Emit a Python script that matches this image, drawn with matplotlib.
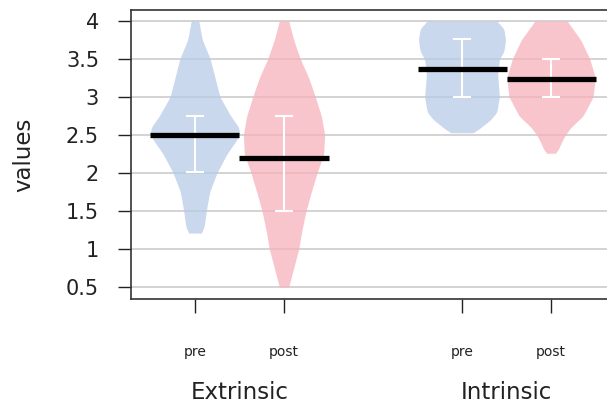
import numpy as np
import matplotlib
matplotlib.use("Agg")
import matplotlib.pyplot as plt
import matplotlib.transforms as mtransforms

# Donnees
groupes = ["Extrinsic", "Intrinsic"]
temps = ["pre", "post", "pre", "post"]
positions = [1, 2, 4, 5]
moyennes = [2.5, 2.2, 3.37, 3.24]
ic_bas = [2.01, 1.5, 3.0, 3.0]
ic_haut = [2.75, 2.75, 3.76, 3.5]

# Profils des violons (niveau y, demi-largeur)
ext_pre_y = [1.21, 1.28, 1.35, 1.5, 1.75, 2.0, 2.25, 2.4, 2.5, 2.6, 2.75, 3.0, 3.25, 3.5, 3.75, 4.0]
ext_pre_w = [0.07, 0.10, 0.11, 0.127, 0.165, 0.247, 0.36, 0.45, 0.505, 0.49, 0.40, 0.28, 0.225, 0.17, 0.082, 0.042]
ext_post_y = [0.5, 0.75, 1.0, 1.25, 1.5, 1.75, 2.0, 2.25, 2.5, 2.75, 3.0, 3.25, 3.5, 3.75, 4.0]
ext_post_w = [0.053, 0.109, 0.165, 0.202, 0.247, 0.307, 0.371, 0.446, 0.457, 0.419, 0.352, 0.278, 0.183, 0.109, 0.053]
int_pre_y = [2.53, 2.56, 2.6, 2.7, 2.8, 3.0, 3.3, 3.5, 3.6, 3.75, 3.9, 4.0]
int_pre_w = [0.11, 0.17, 0.21, 0.32, 0.39, 0.42, 0.40, 0.42, 0.47, 0.49, 0.47, 0.39]
int_post_y = [2.26, 2.3, 2.4, 2.5, 2.6, 2.75, 3.0, 3.25, 3.5, 3.75, 4.0]
int_post_w = [0.045, 0.079, 0.116, 0.161, 0.225, 0.36, 0.472, 0.498, 0.435, 0.334, 0.18]

profils = [(ext_pre_y, ext_pre_w), (ext_post_y, ext_post_w),
           (int_pre_y, int_pre_w), (int_post_y, int_post_w)]
couleurs = ["#b7cce6", "#f7b2bb", "#b7cce6", "#f7b2bb"]

plt.rcParams['font.family'] = ['DejaVu Sans']

fig = plt.figure(figsize=(6.07, 4.07), dpi=100)
ax = fig.add_axes([131 / 607, 108 / 407, 476 / 607, 289 / 407])


def lisser(yy, ww, sigma=0.02):
    # petit lissage gaussien du contour, juste pour arrondir les angles
    pas = yy[1] - yy[0]
    k = np.arange(-4 * sigma, 4 * sigma + pas, pas)
    noyau = np.exp(-0.5 * (k / sigma) ** 2)
    noyau /= noyau.sum()
    n = len(noyau) // 2
    ww_pad = np.concatenate([np.full(n, ww[0]), ww, np.full(n, ww[-1])])
    return np.convolve(ww_pad, noyau, mode="same")[n:-n]


# Violons
for pos, (py, pw), col in zip(positions, profils, couleurs):
    yy = np.linspace(py[0], py[-1], 400)
    ww = lisser(yy, np.interp(yy, py, pw))
    ax.fill_betweenx(yy, pos - ww, pos + ww, color=col, alpha=0.75, lw=0, zorder=2)

# Intervalles (blanc) et moyennes (noir)
for pos, m, lo, hi in zip(positions, moyennes, ic_bas, ic_haut):
    ax.vlines(pos, lo, hi, color="white", lw=1.5, zorder=3)
    ax.hlines([lo, hi], pos - 0.1, pos + 0.1, color="white", lw=1.5, zorder=3)
    ax.hlines(m, pos - 0.5, pos + 0.5, color="black", lw=3.8, zorder=4)

ax.set_xlim(0.281, 5.629)
ax.set_ylim(0.342, 4.145)

# Grille horizontale
ax.set_yticks(np.arange(0.5, 4.01, 0.5))
ax.set_yticklabels(["0.5", "1", "1.5", "2", "2.5", "3", "3.5", "4"])
ax.yaxis.grid(True, color="#c8c8c8", lw=1.1)
ax.set_axisbelow(True)

ax.set_xticks(positions)
ax.set_xticklabels(temps, fontsize=10)
ax.tick_params(axis="y", labelsize=15, length=9.5, width=1, pad=13.5, colors="#222222")
ax.tick_params(axis="x", length=10, width=1, pad=23, colors="#222222")

for s in ["top", "left", "bottom"]:
    ax.spines[s].set_color("#333333")
    ax.spines[s].set_linewidth(1.2)
ax.spines["right"].set_visible(False)

ax.set_ylabel("values", fontsize=16.5, color="#222222")
ax.yaxis.set_label_coords(-0.2, 0.5)

# Noms des groupes sous l'axe
trans = mtransforms.blended_transform_factory(ax.transData, ax.transAxes)
for g, xg in zip(groupes, [1.5, 4.5]):
    ax.text(xg, -0.325, g, transform=trans, ha="center", va="center",
            fontsize=16.5, color="#222222")

fig.savefig("out.png", dpi=100)
